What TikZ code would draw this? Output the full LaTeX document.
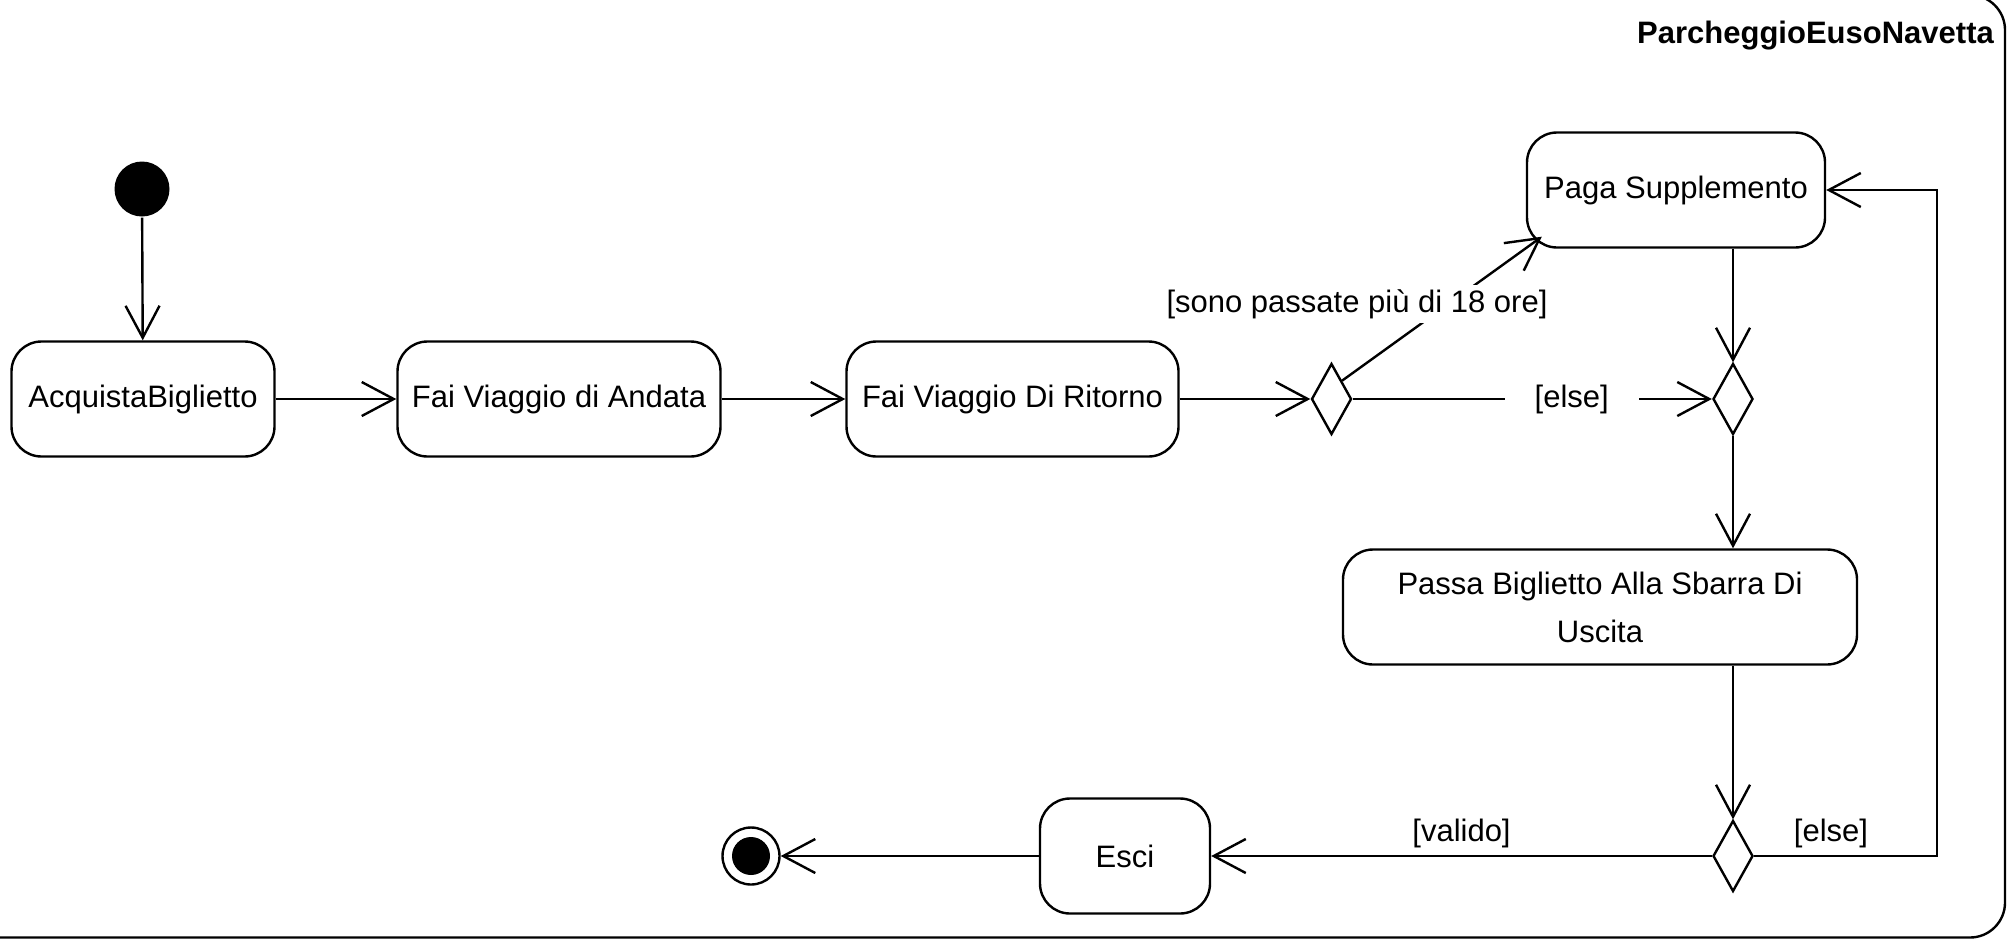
\documentclass[tikz,border=0pt]{standalone}
\usepackage{fontspec}
\setmainfont{Liberation Sans}
\usetikzlibrary{positioning,shapes.geometric,arrows.meta}

\tikzset{
  act/.style={draw, rounded corners=15pt, minimum height=57.5pt, align=center},
  dec/.style={draw, diamond, minimum width=20pt, minimum height=35.5pt, inner sep=0pt},
  lbl/.style={fill=white, inner sep=2pt},
}

\begin{document}
\begin{tikzpicture}[x=0.5pt, y=-0.5pt, line width=1.2pt,
  >={Straight Barb[length=16pt,width=17pt]},
  every node/.style={font=\fontsize{15.5pt}{19pt}\selectfont}]
  \useasboundingbox (0,0) rectangle (2007,938);
  \begin{scope}
    \clip (0,0) rectangle (2007,938);
    \draw[rounded corners=17.5pt] (-100,-5) rectangle (2005,937.5);
  \end{scope}
  \node[anchor=base east, inner sep=0pt, font=\fontsize{15.5pt}{19pt}\selectfont\bfseries] (t) at (1995,43) {ParcheggioEusoNavetta};

  \node[circle, fill, minimum size=27.5pt, inner sep=0pt] (i) at (142,189) {};
  \node[act, minimum width=131.5pt] (a) at (143,399) {AcquistaBiglietto};
  \node[act, minimum width=161.5pt, right=60.3pt of a] (b) {Fai Viaggio di Andata};
  \node[act, minimum width=166pt, right=61.8pt of b] (c) {Fai Viaggio Di Ritorno};
  \node[dec, right=65.3pt of c] (d1) {};
  \node[act, minimum width=149pt] (p) at (1676,190) {Paga Supplemento};
  \node[dec] (d2) at (1733,399) {};
  \node[act, minimum width=257pt, font=\fontsize{15.5pt}{24pt}\selectfont] (s) at (1600,607) {Passa Biglietto Alla Sbarra Di\\Uscita};
  \node[dec] (d3) at (1733,856) {};
  \node[act, minimum width=85pt] (e) at (1125,856) {Esci};
  \node[circle, draw, minimum size=28.5pt, inner sep=0pt,
    path picture={\fill (path picture bounding box.center) circle (9.5pt);}] (f) at (751,856) {};
  \coordinate (r) at (1937,190);

  %row
  \draw[->] (i) -- (a);
  \draw[->] (a) -- (b);
  \draw[->] (b) -- (c);
  \draw[->] (c) -- (d1);

  %d1>p, d1>d2
  \draw[->] (d1.north east) -- ([shift={(16,-12)}]p.south west);
  \node[lbl] (g1) at (1357,304) {[sono passate più di 18 ore]};
  \draw[->] (d1) -- node[lbl, minimum width=67pt, pos=0.61] (g2) {[else]} (d2);
  \draw[->] (p.south -| d2.north) -- (d2.north);

  %d2>s>d3
  \draw[->] (d2) -- (d2 |- s.north);
  \draw[->] (s.south -| d3.north) -- (d3);

  %d3>e>f, d3>p
  \draw[->] (d3) -- node[above] (g3) {[valido]} (e);
  \draw[->] (e) -- (f);
  \draw[->] (d3) -| node[above, pos=0.21] (g4) {[else]} (r) -- (p);
\end{tikzpicture}
\end{document}
